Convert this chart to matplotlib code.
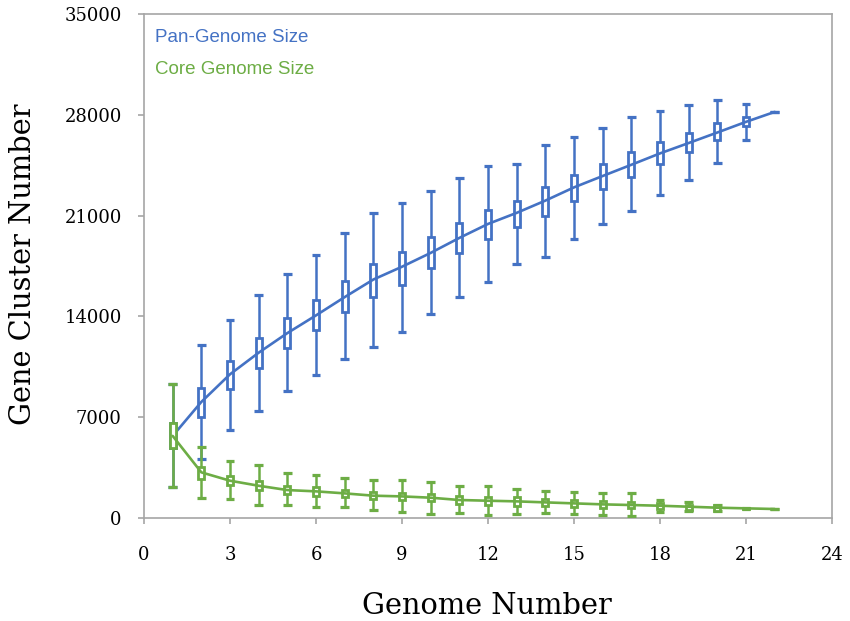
import matplotlib
matplotlib.use("Agg")
import matplotlib.pyplot as plt
import numpy as np

genomes = list(range(1, 23))

pan_med = [5700, 8060, 9980, 11480, 12840, 14070, 15340, 16560, 17450, 18410, 19450,
           20420, 21190, 22040, 22960, 23750, 24530, 25320, 26040, 26770, 27510, 28200]
pan_q1 = [4830, 7020, 8940, 10440, 11830, 13030, 14280, 15340, 16200, 17350, 18390,
          19380, 20210, 21000, 21990, 22870, 23680, 24580, 25390, 26240, 27190, 28200]
pan_q3 = [6630, 9060, 10900, 12500, 13880, 15110, 16450, 17650, 18500, 19490, 20490,
          21410, 21990, 23010, 23820, 24580, 25390, 26080, 26730, 27400, 27860, 28200]
pan_lo = [2170, 4070, 6100, 7440, 8820, 9960, 11040, 11880, 12910, 14160, 15340,
          16420, 17650, 18100, 19380, 20440, 21300, 22430, 23470, 24650, 26270, 28200]
pan_hi = [9335, 11990, 13770, 15520, 16910, 18250, 19770, 21160, 21880, 22680, 23580,
          24440, 24580, 25910, 26490, 27080, 27860, 28230, 28670, 29040, 28780, 28200]

core_med = [5700, 3170, 2590, 2240, 1940, 1850, 1710, 1550, 1500, 1410, 1250,
            1200, 1155, 1085, 1016, 947, 901, 852, 785, 716, 670, 624]
core_q1 = [4830, 2680, 2290, 1940, 1660, 1545, 1434, 1294, 1247, 1155, 970,
           901, 852, 852, 785, 716, 670, 624, 554, 508, 640, 624]
core_q3 = [6630, 3555, 2910, 2585, 2238, 2127, 1940, 1802, 1755, 1663, 1525,
           1478, 1432, 1317, 1247, 1178, 1130, 1016, 901, 878, 700, 624]
core_lo = [2170, 1365, 1296, 901, 901, 785, 739, 554, 393, 300, 370,
           208, 277, 323, 254, 208, 139, 393, 462, 462, 620, 624]
core_hi = [9335, 4900, 3950, 3694, 3098, 2980, 2751, 2633, 2633, 2495, 2218,
           2218, 2033, 1848, 1779, 1709, 1709, 1247, 1109, 924, 716, 624]

x_ticks = [0, 3, 6, 9, 12, 15, 18, 21, 24]
y_ticks = [0, 7000, 14000, 21000, 28000, 35000]

BLUE = "#4472C4"
GREEN = "#6DAD45"
SPINE = "#A6A6A6"

fig = plt.figure(figsize=(8.5, 6.21), dpi=100)
ax = fig.add_axes([144/850, 1-518/621, 688/850, 504/621])
ax.set_xlim(0, 24)
ax.set_ylim(0, 35000)


def draw_series(x, med, q1, q3, lo, hi, color, z):
    x = np.asarray(x, float)
    q1 = np.asarray(q1, float)
    q3 = np.asarray(q3, float)
    ax.vlines(x, lo, hi, colors=color, linewidth=1.8, zorder=z)
    ax.hlines(lo, x - 0.155, x + 0.155, colors=color, linewidth=2.3, zorder=z)
    ax.hlines(hi, x - 0.155, x + 0.155, colors=color, linewidth=2.3, zorder=z)
    ax.bar(x, q3 - q1, bottom=q1, width=0.21, facecolor="white",
           edgecolor=color, linewidth=2.0, zorder=z + 1)
    ax.plot(x, med, color=color, linewidth=1.9, zorder=z + 2,
            solid_capstyle="round")


draw_series(genomes, pan_med, pan_q1, pan_q3, pan_lo, pan_hi, BLUE, 2)
draw_series(genomes, core_med, core_q1, core_q3, core_lo, core_hi, GREEN, 6)

for s in ax.spines.values():
    s.set_color(SPINE)
    s.set_linewidth(1.2)

serif = "DejaVu Serif"
ax.set_xticks(x_ticks)
ax.set_yticks(y_ticks)
ax.set_xticklabels([str(t) for t in x_ticks], fontfamily=serif, fontsize=13)
ax.set_yticklabels([str(t) for t in y_ticks], fontfamily=serif, fontsize=13)
ax.tick_params(axis="both", direction="out", length=4, width=1.2, color=SPINE)
ax.tick_params(axis="x", pad=16)
ax.tick_params(axis="y", pad=12)

fig.text(487/850, 1-614/621, "Genome Number", fontfamily=serif, fontsize=20.8,
         ha="center", va="baseline")
fig.text(31/850, 1-264/621, "Gene Cluster Number", fontfamily=serif, fontsize=20.8,
         ha="center", va="baseline", rotation=90, rotation_mode="anchor")

fig.text(155/850, 1-37/621, "Pan-Genome Size", fontfamily="Liberation Sans",
         fontsize=13.5, color=BLUE, ha="left", va="center")
fig.text(155/850, 1-70/621, "Core Genome Size", fontfamily="Liberation Sans",
         fontsize=13.5, color=GREEN, ha="left", va="center")

fig.savefig("out.png", dpi=100)
